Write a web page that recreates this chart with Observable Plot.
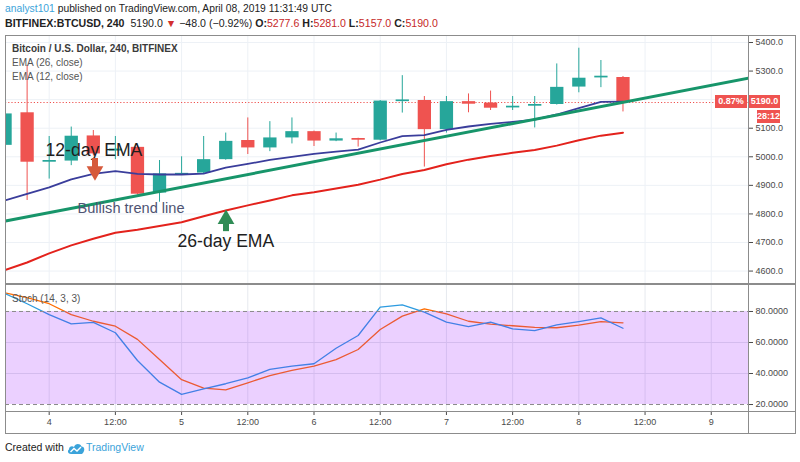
<!DOCTYPE html>
<html><head><meta charset="utf-8">
<script src="https://cdn.jsdelivr.net/npm/d3@7"></script>
<script src="https://cdn.jsdelivr.net/npm/@observablehq/plot@0.6"></script>
<style>
body{margin:0;background:#fff;}
#wrap{position:relative;width:800px;height:462px;overflow:hidden;background:#fff;font-family:"Liberation Sans",Arial,sans-serif;}
.abs{position:absolute;white-space:nowrap;}
.hl{position:absolute;background:#8c8c8c;}
.box{position:absolute;background:#ef5350;color:#fff;font-size:9px;font-weight:bold;text-align:center;line-height:13px;height:13px;}
</style></head><body><div id="wrap"></div>
<script>
// ---- data (4h candles BTCUSD, Bitfinex) ----
const times = ["2019-04-03T16:00Z","2019-04-03T20:00Z","2019-04-04T00:00Z","2019-04-04T04:00Z","2019-04-04T08:00Z","2019-04-04T12:00Z","2019-04-04T16:00Z","2019-04-04T20:00Z","2019-04-05T00:00Z","2019-04-05T04:00Z","2019-04-05T08:00Z","2019-04-05T12:00Z","2019-04-05T16:00Z","2019-04-05T20:00Z","2019-04-06T00:00Z","2019-04-06T04:00Z","2019-04-06T08:00Z","2019-04-06T12:00Z","2019-04-06T16:00Z","2019-04-06T20:00Z","2019-04-07T00:00Z","2019-04-07T04:00Z","2019-04-07T08:00Z","2019-04-07T12:00Z","2019-04-07T16:00Z","2019-04-07T20:00Z","2019-04-08T00:00Z","2019-04-08T04:00Z","2019-04-08T08:00Z"];
const open  = [5040,5154,4981,4985,5073,5020,5033,4873,4937,4943,4990,5057,5031,5066,5088,5055,5064,5058,5193,5197,5095,5193,5188,5171,5177,5183,5244,5276,5277.6];
const high  = [5160,5320,5071,5104,5092,5071,5036,4987,5000,5071,5083,5136,5123,5136,5090,5083,5065,5197,5284,5211,5211,5220,5230,5211,5211,5325,5380,5337,5281];
const low   = [5030,4847,4922,4969,5003,4990,4866,4841,4935,4940,4988,5008,5018,5045,5036,5053,5034,5056,5153,4964,5083,5154,5162,5162,5101,5181,5224,5242,5157];
const close = [5150,4981,4987,5072,5010,5027,4869,4940,4942,4990,5054,5031,5066,5088,5055,5063,5058,5195,5199,5095,5193,5184,5170,5177,5183,5243,5275,5282,5190];
const ema12 = [4847,4870,4893,4921,4940,4950,4940,4938,4938,4941,4962,4975,4989,5000,5010,5018,5025,5050,5072,5076,5094,5106,5115,5122,5130,5148,5170,5192,5193];
const ema26 = [4604,4630,4662,4690,4713,4734,4745,4758,4771,4792,4812,4830,4847,4865,4876,4889,4902,4920,4940,4954,4974,4990,5003,5014,5024,5039,5058,5074,5084];
const stochK = [91.5,85,78,72,73,66.3,48.4,34.4,26.5,30.1,33.4,37.2,42.6,44.7,46.3,56.3,64.5,82.8,84.3,79.6,73.1,70.3,73.1,68.8,67.7,71.4,73.5,75.9,69.2];
const stochD = [92,89,85,78,73.7,70.5,62,49,36,30.6,29.5,34,38.7,42,44.7,49,55.5,68.4,77,81.7,78.5,73.7,71.8,70.8,69.7,69.5,71.2,73.5,72.7];
const trendTimes = ["2019-04-03T16:05Z","2019-04-09T06:45Z"];
const trendPrices = [4775,5275];
const priceGrid = [4600,4700,4800,4900,5000,5100,5200,5300,5400];
const priceLabels = [4600,4700,4800,4900,5000,5100,5300,5400]; // 5200.0 is hidden behind the last-price tag
const stochTicks = [20,40,60,80];
const stochBand = [20,80];
const xTickTimes = ["2019-04-04T00:00Z","2019-04-04T12:00Z","2019-04-05T00:00Z","2019-04-05T12:00Z","2019-04-06T00:00Z","2019-04-06T12:00Z","2019-04-07T00:00Z","2019-04-07T12:00Z","2019-04-08T00:00Z","2019-04-08T12:00Z","2019-04-09T00:00Z"];
const xTickLabels = ["4","12:00","5","12:00","6","12:00","7","12:00","8","12:00","9"];
const notes = [
  {text:"12-day EMA", t:"2019-04-03T23:20Z", p:5002, size:17.6, color:"#1e1e1e"},
  {text:"Bullish trend line", t:"2019-04-04T05:08Z", p:4803, size:14.6, color:"#4e5372"},
  {text:"26-day EMA", t:"2019-04-04T23:15Z", p:4684, size:17.6, color:"#1e1e1e"}
];
const arrows = [
  {t:"2019-04-04T08:18Z", shaft:[4994,4962], head:4950, dir:"down", color:"#d65a3c"},
  {t:"2019-04-05T08:03Z", shaft:[4738,4772], head:4782, dir:"up", color:"#2f8c55"}
];
const lastPrice = 5190.0;

// ---- build ----
const T = s => new Date(s);
const xDomain = [T("2019-04-03T16:05Z"), T("2019-04-09T06:45Z")];
const candles = times.map((t,i)=>({t:T(t),o:open[i],h:high[i],l:low[i],c:close[i],
  col: close[i]>=open[i] ? "#26a69a" : "#ef5350"}));
const emaRows = times.map((t,i)=>({t:T(t),e12:ema12[i],e26:ema26[i]}));
const stRows = times.map((t,i)=>({t:T(t),k:stochK[i],d:stochD[i]}));
const trend = trendTimes.map((t,i)=>({t:T(t),p:trendPrices[i]}));
const xTicks = xTickTimes.map(T);
const lab = new Map(xTicks.map((d,i)=>[+d,xTickLabels[i]]));
const gridCol = "#edf1f6";
const font = "'Liberation Sans', Arial, sans-serif";

const price = Plot.plot({
  width:800, height:249, marginLeft:5, marginRight:52, marginTop:0, marginBottom:0,
  x:{type:"utc", domain:xDomain, axis:null},
  y:{domain:[4553,5424.5], axis:null},
  color:{type:"identity"},
  style:{background:"transparent", fontFamily:font, fontSize:"9px", color:"#4a4a4a", overflow:"visible"},
  marks:[
    Plot.ruleX(xTicks,{stroke:gridCol}),
    Plot.ruleY(priceGrid,{stroke:gridCol}),
    Plot.ruleY([lastPrice],{stroke:"#ef5350", strokeDasharray:"1.2,2", strokeWidth:1}),
    Plot.ruleX(candles,{x:"t", y1:"l", y2:"h", stroke:"col", strokeWidth:1, clip:true}),
    Plot.ruleX(candles,{x:"t", y1:"o", y2:"c", stroke:"col", strokeWidth:13.3, clip:true}),
    Plot.line(emaRows,{x:"t", y:"e26", stroke:"#e3221c", strokeWidth:2, clip:true}),
    Plot.line(emaRows,{x:"t", y:"e12", stroke:"#3a3d9b", strokeWidth:1.8, clip:true}),
    Plot.line(trend,{x:"t", y:"p", stroke:"#17956a", strokeWidth:3, clip:true}),
    Plot.text(notes,{x:d=>T(d.t), y:"p", text:"text", fontSize:d=>d.size, fill:"color", textAnchor:"start", lineAnchor:"bottom"}),
    Plot.ruleX(arrows,{x:d=>T(d.t), y1:d=>d.shaft[0], y2:d=>d.shaft[1], stroke:"color", strokeWidth:6}),
    Plot.dot(arrows,{x:d=>T(d.t), y:"head", symbol:"triangle", r:6.2, fill:"color", stroke:"none", rotate:d=>d.dir==="down"?180:0}),
    Plot.axisY({anchor:"right", ticks:priceLabels, tickFormat:d=>d.toFixed(1), tickSize:4, tickPadding:3, fontSize:9, label:null})
  ]
});

const stoch = Plot.plot({
  width:800, height:149, marginLeft:5, marginRight:52, marginTop:0, marginBottom:22,
  x:{type:"utc", domain:xDomain},
  y:{domain:[15.5,97.4], axis:null},
  style:{background:"transparent", fontFamily:font, fontSize:"9px", color:"#4a4a4a", overflow:"visible"},
  marks:[
    Plot.ruleX(xTicks,{stroke:"#e6e9ee"}),
    Plot.ruleY([40,60],{stroke:"#e3e6ea"}),
    Plot.line(stRows,{x:"t", y:"d", stroke:"#ff6d00", strokeWidth:1.3, clip:true}),
    Plot.line(stRows,{x:"t", y:"k", stroke:"#2d9be0", strokeWidth:1.3, clip:true}),
    Plot.rect([stochBand],{y1:d=>d[0], y2:d=>d[1], fill:"#9915ff", fillOpacity:0.2}),
    Plot.ruleY(stochBand,{stroke:"#8a8a8a", strokeDasharray:"4,3", strokeWidth:1}),
    Plot.axisY({anchor:"right", ticks:stochTicks, tickFormat:d=>d.toFixed(4), tickSize:4, tickPadding:3, fontSize:9, label:null}),
    Plot.axisX({ticks:xTicks, tickFormat:d=>lab.get(+d), tickSize:4, tickPadding:3, fontSize:9, label:null})
  ]
});

const wrap = document.getElementById("wrap");
function add(html){ wrap.insertAdjacentHTML("beforeend", html); }
price.style.position="absolute"; price.style.left="0px"; price.style.top="35px";
stoch.style.position="absolute"; stoch.style.left="0px"; stoch.style.top="284px";
wrap.appendChild(price); wrap.appendChild(stoch);

// frame lines
add('<div class="hl" style="left:5px;top:35px;width:790px;height:1px"></div>');
add('<div class="hl" style="left:5px;top:283px;width:790px;height:2px"></div>');
add('<div class="hl" style="left:5px;top:411px;width:790px;height:1px"></div>');
add('<div class="hl" style="left:5px;top:433px;width:790px;height:1px"></div>');
add('<div class="hl" style="left:5px;top:35px;width:1px;height:399px"></div>');
add('<div class="hl" style="left:748px;top:35px;width:1px;height:399px"></div>');
add('<div class="hl" style="left:795px;top:35px;width:1px;height:399px"></div>');

// header
add('<div class="abs" style="left:5px;top:3px;font-size:10.3px;color:#222"><span style="color:#3ba3da">analyst101</span> published on TradingView.com, April 08, 2019 11:31:49 UTC</div>');
add('<div class="abs" style="left:5px;top:17px;font-size:10.6px;color:#222"><b>BITFINEX:BTCUSD, 240</b>&nbsp; 5190.0 <span style="color:#d32f2f">▼</span> −48.0 (−0.92%) <b>O:</b><span style="color:#c62828">5277.6</span> <b>H:</b><span style="color:#c62828">5281.0</span> <b>L:</b><span style="color:#c62828">5157.0</span> <b>C:</b><span style="color:#c62828">5190.0</span></div>');
// legends
add('<div class="abs" style="left:12px;top:43px;font-size:10px;font-weight:bold;color:#3a3a3a">Bitcoin / U.S. Dollar, 240, BITFINEX</div>');
add('<div class="abs" style="left:12px;top:57px;font-size:10px;color:#555">EMA (26, close)</div>');
add('<div class="abs" style="left:12px;top:71px;font-size:10px;color:#555">EMA (12, close)</div>');
add('<div class="abs" style="left:12px;top:293px;font-size:10px;color:#555">Stoch (14, 3, 3)</div>');
// price labels
const yl = price.scale("y").apply(lastPrice) + 35;
add(`<div class="box" style="left:715px;top:${yl-7}px;width:32px">0.87%</div>`);
add(`<div class="box" style="left:749px;top:${yl-7}px;width:31px">5190.0</div>`);
add(`<div class="box" style="left:757px;top:${yl+8}px;width:23px">28:12</div>`);
// footer
add('<div class="abs" style="left:5px;top:441px;font-size:10.5px;color:#222">Created with</div>');
add('<svg class="abs" style="left:67px;top:442px" width="18" height="13" viewBox="0 0 18 13"><path d="M4 12 C1 12 0 9 2 7.5 C2 4.5 5 3.5 7 5 C8 1.5 13 1 14.5 4.5 C17.5 4.5 18 8 16.5 10 C16 11.5 15 12 14 12 Z" fill="#3ba3da"/><path d="M3.5 10 L7 6.5 L10 9 L14 5" stroke="#fff" stroke-width="1.4" fill="none"/></svg>');
add('<div class="abs" style="left:86px;top:441px;font-size:10.5px;color:#3ba3da">TradingView</div>');
</script></body></html>
